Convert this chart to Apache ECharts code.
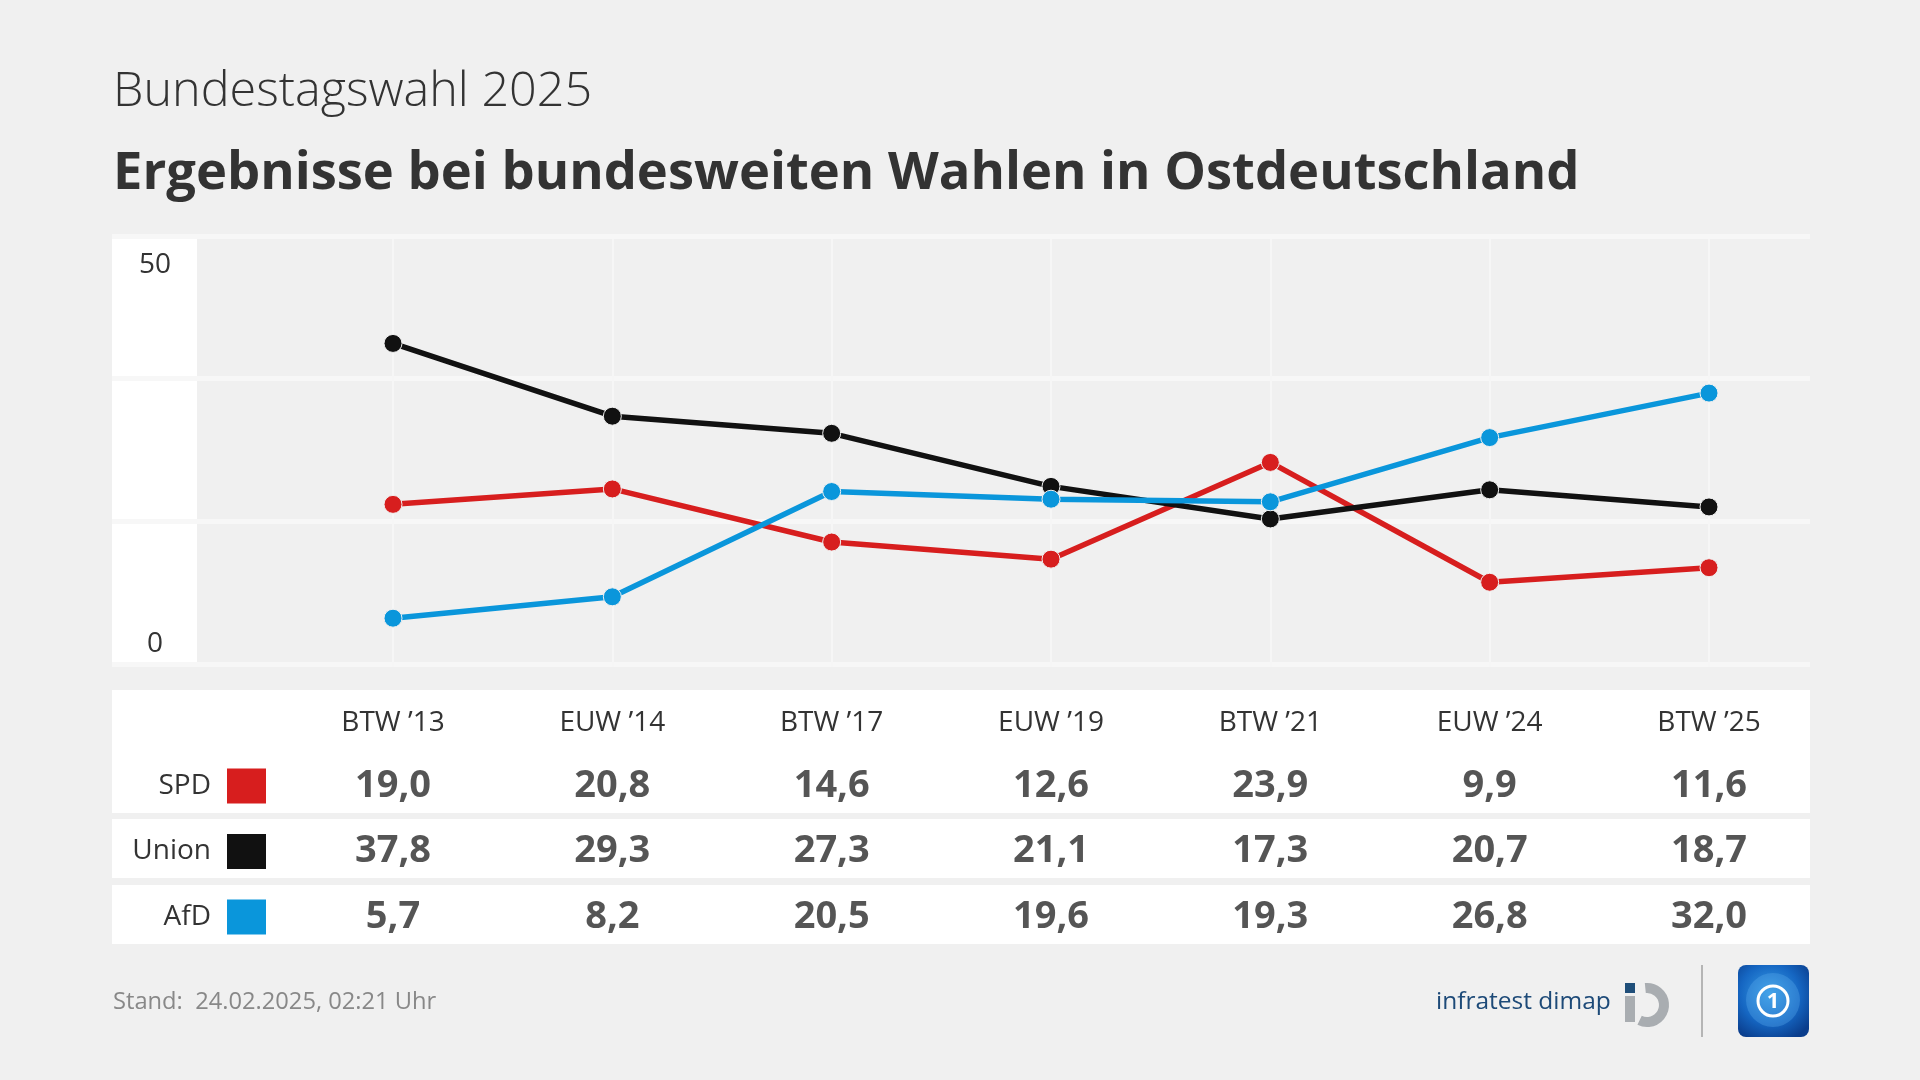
<!DOCTYPE html>
<html>
<head>
<meta charset="utf-8">
<script src="https://cdn.jsdelivr.net/npm/echarts@6/dist/echarts.min.js"></script>
<style>
  html, body { margin: 0; padding: 0; background: #f0f0f0; }
  #chart { width: 1920px; height: 1080px; }
</style>
</head>
<body>
<div id="chart"></div>
<script>
// ---- data ----
const CATEGORIES = ['BTW ’13', 'EUW ’14', 'BTW ’17', 'EUW ’19', 'BTW ’21', 'EUW ’24', 'BTW ’25'];
const PARTIES = ['SPD', 'Union', 'AfD'];
const SPD = [19.0, 20.8, 14.6, 12.6, 23.9, 9.9, 11.6];
const UNION = [37.8, 29.3, 27.3, 21.1, 17.3, 20.7, 18.7];
const AFD = [5.7, 8.2, 20.5, 19.6, 19.3, 26.8, 32.0];
const PARTY_COLORS = ['#d71e1e', '#111111', '#0a96db'];
const Y_MIN = 0;
const Y_MAX = 50;
const Y_LABELED_TICKS = [0, 50];

const SERIES_VALUES = [SPD, UNION, AFD];
const FONT = '"Open Sans", "Noto Sans", sans-serif';
const fmt = v => v.toFixed(1).replace('.', ',');

const chart = echarts.init(document.getElementById('chart'), null, { renderer: 'canvas' });

const lineSeries = PARTIES.map((p, i) => ({
  name: p,
  type: 'line',
  xAxisIndex: 1,
  yAxisIndex: 1,
  data: SERIES_VALUES[i],
  symbol: 'circle',
  symbolSize: 18,
  showAllSymbol: true,
  lineStyle: { color: PARTY_COLORS[i], width: 5.5 },
  itemStyle: { color: PARTY_COLORS[i], borderColor: '#f0f0f0', borderWidth: 1 },
  emphasis: { disabled: true },
  z: 3 + i
}));

const tableSeries = PARTIES.map((p, i) => ({
  name: p + '-table',
  type: 'scatter',
  xAxisIndex: 2,
  yAxisIndex: 2,
  symbolSize: 1,
  itemStyle: { color: 'rgba(0,0,0,0)' },
  data: SERIES_VALUES[i].map((v, j) => [j, i, v]),
  encode: { x: 0, y: 1 },
  label: {
    show: true,
    position: 'inside',
    formatter: params => fmt(params.value[2]),
    fontFamily: FONT,
    fontWeight: 'bold',
    fontSize: 38,
    color: '#2b2b2b'
  },
  emphasis: { disabled: true },
  silent: true,
  z: 5
}));

const yRich = {};
PARTY_COLORS.forEach((c, i) => {
  yRich['c' + i] = { width: 39, height: 35, backgroundColor: c };
});
yRich.n = { fontFamily: FONT, fontSize: 28, color: '#333333', padding: [0, 16, 0, 0] };

const option = {
  backgroundColor: '#f0f0f0',
  animation: false,
  title: [
    {
      text: 'Bundestagswahl 2025',
      left: 108, top: 61,
      textStyle: { fontFamily: FONT, fontWeight: 300, fontSize: 48.5, color: '#333333', lineHeight: 52 }
    },
    {
      text: 'Ergebnisse bei bundesweiten Wahlen in Ostdeutschland',
      left: 108, top: 139,
      textStyle: { fontFamily: FONT, fontWeight: 'bold', fontSize: 52.5, color: '#333333', lineHeight: 60 }
    },
    {
      text: 'Stand:  24.02.2025, 02:21 Uhr',
      left: 108, top: 983,
      textStyle: { fontFamily: FONT, fontWeight: 'normal', fontSize: 23.7, color: '#888888', lineHeight: 28 }
    }
  ],
  graphic: [
    // y-axis label panel
    { type: 'rect', z: -5, shape: { x: 112, y: 236, width: 85, height: 428 }, style: { fill: '#ffffff' }, silent: true },
    // table rows
    { type: 'rect', z: -5, shape: { x: 112, y: 690, width: 1698, height: 123 }, style: { fill: '#ffffff' }, silent: true },
    { type: 'rect', z: -5, shape: { x: 112, y: 819, width: 1698, height: 59 }, style: { fill: '#ffffff' }, silent: true },
    { type: 'rect', z: -5, shape: { x: 112, y: 885, width: 1698, height: 59 }, style: { fill: '#ffffff' }, silent: true },
    // infratest dimap logo
    { type: 'text', x: 1436, y: 1002, style: { text: 'infratest dimap', fontFamily: FONT, fontSize: 24.5, fill: '#1d4a78', verticalAlign: 'middle', textAlign: 'left' }, silent: true },
    { type: 'arc', shape: { cx: 1647, cy: 1005, r: 17, startAngle: -Math.PI / 2 - 0.1, endAngle: Math.PI / 2 + 0.45, clockwise: true }, style: { stroke: '#a9adb1', lineWidth: 10, fill: null }, silent: true },
    { type: 'rect', shape: { x: 1625, y: 996, width: 10, height: 26 }, style: { fill: '#a9adb1' }, silent: true },
    { type: 'rect', shape: { x: 1625, y: 983, width: 10, height: 10 }, style: { fill: '#1f4e79' }, silent: true },
    // separator
    { type: 'line', shape: { x1: 1702, y1: 965, x2: 1702, y2: 1037 }, style: { stroke: '#b5b5b5', lineWidth: 2 }, silent: true },
    // tagesschau-like icon
    { type: 'rect', shape: { x: 1738, y: 965, width: 71, height: 72, r: 8 },
      style: { fill: { type: 'radial', x: 0.45, y: 0.4, r: 0.7, colorStops: [{ offset: 0, color: '#3aa0e8' }, { offset: 0.6, color: '#1566c2' }, { offset: 1, color: '#0a3d8c' }] } }, silent: true },
    { type: 'circle', shape: { cx: 1773, cy: 1000, r: 27 }, style: { fill: 'rgba(90,170,235,0.35)' }, silent: true },
    { type: 'circle', shape: { cx: 1773, cy: 1001, r: 15 }, style: { fill: null, stroke: '#ffffff', lineWidth: 3 }, silent: true },
    { type: 'text', x: 1773, y: 1002, style: { text: '1', fontFamily: FONT, fontWeight: 'bold', fontSize: 22, fill: '#ffffff', textAlign: 'center', verticalAlign: 'middle' }, silent: true }
  ],
  grid: [
    { left: 112, right: 110, top: 236, height: 428, containLabel: false },
    { left: 393, right: 211, top: 239, height: 428, containLabel: false },
    { left: 393, right: 211, top: 786, height: 131, containLabel: false }
  ],
  xAxis: [
    { gridIndex: 0, type: 'value', min: 0, max: 1, show: false },
    {
      gridIndex: 1, type: 'category', data: CATEGORIES, boundaryGap: false,
      axisLine: { show: false }, axisTick: { show: false },
      splitLine: { show: true, lineStyle: { color: '#f6f6f6', width: 2 } },
      axisLabel: { fontFamily: FONT, fontSize: 28, color: '#333333', margin: 42, lineHeight: 28 }
    },
    { gridIndex: 2, type: 'category', data: CATEGORIES, boundaryGap: false, show: false }
  ],
  yAxis: [
    {
      gridIndex: 0, type: 'value', min: Y_MIN, max: Y_MAX, interval: (Y_MAX - Y_MIN) / 3,
      axisLine: { show: false }, axisTick: { show: false },
      splitLine: { show: true, lineStyle: { color: '#f7f7f7', width: 5 } },
      axisLabel: {
        inside: true, margin: 43, align: 'center',
        formatter: v => {
          const t = Y_LABELED_TICKS.find(x => Math.abs(x - v) < 0.01);
          if (t === undefined) return '';
          return t === Y_MAX ? '{t|' + t + '}' : '{b|' + t + '}';
        },
        rich: {
          t: { fontFamily: FONT, fontSize: 28, color: '#333333', padding: [58, 0, 0, 0] },
          b: { fontFamily: FONT, fontSize: 28, color: '#333333', padding: [0, 0, 40, 0] }
        }
      }
    },
    { gridIndex: 1, type: 'value', min: Y_MIN, max: Y_MAX, show: false },
    {
      gridIndex: 2, type: 'category', data: PARTIES, inverse: true, boundaryGap: false,
      axisLine: { show: false }, axisTick: { show: false }, splitLine: { show: false },
      axisLabel: {
        margin: 127,
        formatter: (v, i) => '{n|' + v + '}{c' + i + '| }',
        rich: yRich
      }
    }
  ],
  series: [...lineSeries, ...tableSeries]
};

chart.setOption(option);
</script>
</body>
</html>
